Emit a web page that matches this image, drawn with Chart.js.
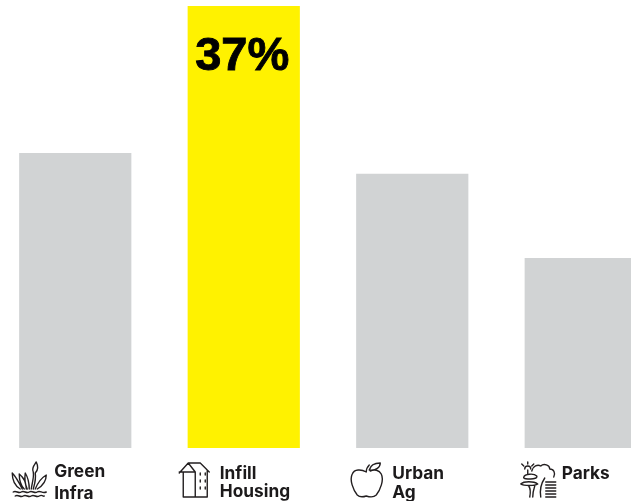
<!DOCTYPE html>
<html>
<head>
<meta charset="utf-8">
<style>
  html, body { margin: 0; padding: 0; background: #fff; overflow: hidden; width: 631px; height: 501px; }
  #wrap { position: absolute; left: -9px; top: 0; width: 674px; height: 501px; }
</style>
<script src="https://cdn.jsdelivr.net/npm/chart.js@4"></script>
</head>
<body>
<div id="wrap"><canvas id="chart" width="674" height="501"></canvas></div>
<script>
const categories = ['Green Infra', 'Infill Housing', 'Urban Ag', 'Parks'];
const labelLines = [['Green', 'Infra'], ['Infill', 'Housing'], ['Urban', 'Ag'], ['Parks']];
const shares = [24.7, 37, 22.95, 15.9];
const highlighted = 'Infill Housing';

// label placement under each bar, relative to the bar centre
const labelSlots = [
  { x: -21, base: [477, 499] },
  { x: -24, base: [479, 497] },
  { x: -20, base: [479, 498] },
  { x: -19, base: [479] }
];
const iconSlots = [-67, -69.5, -66, -64];

// line icons in a 45x43 box, stroked under each category
const icons = [
  'M14 31C11 25 8 19 4 15C4 22 7 28 12 31M18 31C18 25 16 20 11 16C11 23 13 28 16 31M21 31C21 26 20 20 17 15C16 22 17 27 19 31M23 31C24 24 26 19 25 14C23 10 26 7 28 4C30 8 30 12 27 15C28 22 26 27 25 31M27 31C29 26 33 20 38 17C38 23 34 28 29 31M5 34c3-2 5 2 8 0s5 2 8 0 5 2 8 0 5 2 9 0M7 38c3-2 5 2 8 0s5 2 8 0 5 2 8 0 4 1 5 0',
  'M5 15L14 5H26L35 14M14 5L21 14M5 14H21M9 14V39H33V12M21 14V39M26 15v2M31 15v2M26 22v2M31 22v2M26 29v2M31 29v2',
  'M20 14C15 11 8 11 6 16C3 22 7 32 11 37C14 40 17 39 20 38C23 39 27 40 30 37C34 32 38 22 35 16C33 12 28 11 24 13M20 14C20 11 21 9 23 7M23 12C24 8 28 5 34 5C34 9 30 13 23 12',
  'M8 11a3 3 0 0 1 6 0M11 4v2M5 6l2 2M17 6l-2 2M11 12v4M15 13c1-5 6-7 9-5c3-3 9-1 9 3c4 0 6 4 4 8M7 19c1-3 10-4 13-1c1 2-3 3-6 3s-8 0-7-2zM4 26c3-3 13-3 17 0c-3 2-14 2-17 0zM12 28c2 3 2 6 1 11M18 28c-1 3-2 6-2 11M24 39c-1-6 0-13 4-19M29 24h10M29 27h10M29 30h10M29 33h10M29 36h10M29 39h10'
];

const bottomLabels = {
  id: 'bottomLabels',
  afterDraw(chart) {
    const { ctx, scales } = chart;
    ctx.save();
    categories.forEach((name, i) => {
      const center = scales.x.getPixelForValue(i);
      // icon
      ctx.save();
      ctx.translate(center + iconSlots[i], 458);
      ctx.strokeStyle = '#231f20';
      ctx.lineWidth = 1.4;
      ctx.lineCap = 'round';
      ctx.lineJoin = 'round';
      ctx.stroke(new Path2D(icons[i]));
      ctx.restore();
      // label, one or two lines
      ctx.fillStyle = '#1c1a1b';
      ctx.font = 'bold 17.3px Inter';
      ctx.textBaseline = 'alphabetic';
      labelLines[i].forEach((line, j) => {
        ctx.fillText(line, center + labelSlots[i].x, labelSlots[i].base[j]);
      });
    });

    // value on the highlighted bar, stroked a little to make it heavier
    const k = categories.indexOf(highlighted);
    ctx.fillStyle = '#000';
    ctx.strokeStyle = '#000';
    ctx.lineWidth = 0.9;
    ctx.font = 'bold 47px "Liberation Sans"';
    ctx.textAlign = 'center';
    const value = shares[k] + '%';
    ctx.fillText(value, scales.x.getPixelForValue(k) - 1.5, 70);
    ctx.strokeText(value, scales.x.getPixelForValue(k) - 1.5, 70);
    ctx.restore();
  }
};

new Chart(document.getElementById('chart'), {
  type: 'bar',
  data: {
    labels: categories,
    datasets: [{
      data: shares,
      backgroundColor: categories.map(c => c === highlighted ? '#fff200' : '#d1d3d4'),
      categoryPercentage: 1,
      barPercentage: 0.666
    }]
  },
  options: {
    responsive: false,
    animation: false,
    layout: { padding: { left: 0, right: 0, top: 6, bottom: 53 } },
    plugins: { legend: { display: false }, tooltip: { enabled: false } },
    scales: {
      x: { display: false },
      y: { display: false, min: 0, max: 37 }
    }
  },
  plugins: [bottomLabels]
});
</script>
</body>
</html>
